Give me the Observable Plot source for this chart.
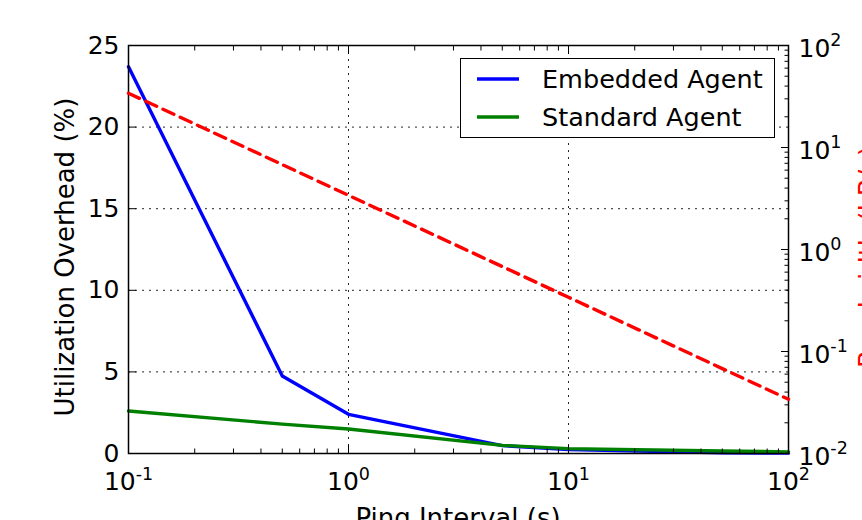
<!DOCTYPE html>
<html><head><meta charset="utf-8">
<script src="https://cdn.jsdelivr.net/npm/d3@7"></script>
<script src="https://cdn.jsdelivr.net/npm/@observablehq/plot@0.6"></script>
<style>
html,body{margin:0;padding:0;background:#fff;}
#wrap{position:relative;width:862px;height:520px;overflow:hidden;background:#fff;}
#wrap > svg{position:absolute;left:0;top:0;max-width:none;}
#legend{position:absolute;left:460px;top:58px;width:313px;height:78px;border:1.5px solid #000;background:#fff;font-family:"DejaVu Sans";font-size:25.5px;color:#000;}
#legend .row{position:absolute;left:0;width:100%;height:30px;}
#legend .row svg{position:absolute;left:16px;top:0;}
#legend .row span{position:absolute;left:81px;top:0;line-height:30px;white-space:nowrap;}
.axlabel{position:absolute;font-family:"DejaVu Sans";font-size:26px;line-height:26px;height:26px;width:500px;text-align:center;white-space:nowrap;}
</style></head><body>
<div id="wrap"></div>
<script>
// ---- data ----
const interval = [0.1, 0.5, 1, 5, 10, 50, 100];           // ping interval (s)
const embedded = [23.7, 4.75, 2.4, 0.48, 0.24, 0.05, 0.02]; // utilization overhead (%)
const standard = [2.6, 1.8, 1.5, 0.5, 0.3, 0.15, 0.1];     // utilization overhead (%)
const bandwidth = [34, 6.8, 3.4, 0.68, 0.34, 0.068, 0.034]; // right axis (log)
const seriesNames = ["Embedded Agent", "Standard Agent"];
const seriesColors = ["#0000ff", "#008000"];
const leftTicks = [0, 5, 10, 15, 20, 25];
const xTicks = [0.1, 1, 10, 100];
const rightTicks = [0.01, 0.1, 1, 10, 100];
const xLabel = "Ping Interval (s)";
const yLabel = "Utilization Overhead (%)";
const rLabel = "Bandwidth (kB/s)";

// ---- layout ----
const W = 862, H = 520;
const M = {left: 128, right: 74, top: 45, bottom: 67};
const FS = 25;
const LW = 3.4;
const style = {fontFamily: "DejaVu Sans", fontSize: FS + "px", color: "#000", overflow: "visible", background: "transparent"};

const xMinor = d3.scaleLog().domain([xTicks[0], xTicks[xTicks.length - 1]]).ticks();
const rMinor = d3.scaleLog().domain([rightTicks[0], rightTicks[rightTicks.length - 1]]).ticks();
const supFmt = v => "10^" + Math.round(Math.log10(v));

const rows = interval.flatMap((x, i) => [
  {x, y: embedded[i], s: seriesNames[0]},
  {x, y: standard[i], s: seriesNames[1]}
]);
const red = interval.map((x, i) => ({x, y: bandwidth[i]}));

const grid = {stroke: "#000", strokeOpacity: 0.85, strokeWidth: 1, strokeDasharray: "2,5"};

const p1 = Plot.plot({
  width: W, height: H,
  marginLeft: M.left, marginRight: M.right, marginTop: M.top, marginBottom: M.bottom,
  style,
  x: {type: "log", domain: [xTicks[0], xTicks[xTicks.length - 1]]},
  y: {domain: [leftTicks[0], leftTicks[leftTicks.length - 1]]},
  color: {domain: seriesNames, range: seriesColors},
  marks: [
    Plot.gridX(xTicks, grid),
    Plot.gridY(leftTicks, grid),
    Plot.line(rows, {x: "x", y: "y", stroke: "s", strokeWidth: LW}),
    Plot.axisX(xMinor, {anchor: "bottom", tickSize: -4.5, fill: "none", label: null}),
    Plot.axisX(xMinor, {anchor: "top", tickSize: -4.5, fill: "none", label: null}),
    Plot.axisX(xTicks, {anchor: "bottom", tickSize: -8, fill: "none", label: null}),
    Plot.axisX(xTicks, {anchor: "top", tickSize: -8, fill: "none", label: null}),
    Plot.axisX(xTicks, {anchor: "bottom", tickSize: 0, tickPadding: 19, tickFormat: supFmt, label: null, fill: "#000"}),
    Plot.axisY(leftTicks, {anchor: "left", tickSize: -8, fill: "none", label: null}),
    Plot.axisY(leftTicks, {anchor: "left", tickSize: 0, tickPadding: 9, label: null, fill: "#000"}),
    Plot.frame({stroke: "#000", strokeWidth: 1.5})
  ]
});

const p2 = Plot.plot({
  width: W, height: H,
  marginLeft: M.left, marginRight: M.right, marginTop: M.top, marginBottom: M.bottom,
  style,
  x: {type: "log", domain: [xTicks[0], xTicks[xTicks.length - 1]], axis: null},
  y: {type: "log", domain: [rightTicks[0], rightTicks[rightTicks.length - 1]]},
  marks: [
    Plot.line(red, {x: "x", y: "y", stroke: "#ff0000", strokeWidth: LW, strokeDasharray: "12,7"}),
    Plot.axisY(rMinor, {anchor: "right", tickSize: -4.5, fill: "none", label: null}),
    Plot.axisY(rightTicks, {anchor: "right", tickSize: -8, fill: "none", label: null}),
    Plot.axisY(rightTicks, {anchor: "right", tickSize: 0, tickPadding: 10, dy: 3, tickFormat: supFmt, label: null, fill: "#000"})
  ]
});

function supify(svg) {
  svg.querySelectorAll("text").forEach(t => {
    const m = (t.textContent || "").match(/^10\^(-?\d+)$/);
    if (!m) return;
    t.textContent = "";
    const ns = "http://www.w3.org/2000/svg";
    const a = document.createElementNS(ns, "tspan");
    a.textContent = "10";
    const b = document.createElementNS(ns, "tspan");
    b.textContent = m[1];
    b.setAttribute("style", "font-size:70%");
    b.setAttribute("dy", "-0.6em");
    t.append(a, b);
  });
}
supify(p1); supify(p2);

const wrap = document.getElementById("wrap");
wrap.append(p1, p2);

// axis titles (centred on the plot frame)
function addLabel(text, cx, cy, rotate, color) {
  const d = document.createElement("div");
  d.className = "axlabel";
  d.textContent = text;
  d.style.left = (cx - 250) + "px";
  d.style.top = (cy - 13) + "px";
  d.style.color = color;
  if (rotate) d.style.transform = "rotate(-90deg)";
  wrap.append(d);
}
const frameCx = M.left + (W - M.left - M.right) / 2;
addLabel(xLabel, frameCx, 518, false, "#000");
addLabel(yLabel, 65, 257, true, "#000");
addLabel(rLabel, 869, 257, true, "#ff0000");

// legend
const leg = document.createElement("div");
leg.id = "legend";
seriesNames.forEach((name, i) => {
  const row = document.createElement("div");
  row.className = "row";
  row.style.top = (5 + i * 38) + "px";
  row.innerHTML = `<svg width="42" height="30"><line x1="0" x2="42" y1="15" y2="15" stroke="${seriesColors[i]}" stroke-width="${LW}"/></svg><span>${name}</span>`;
  leg.append(row);
});
wrap.append(leg);
</script>
</body></html>
